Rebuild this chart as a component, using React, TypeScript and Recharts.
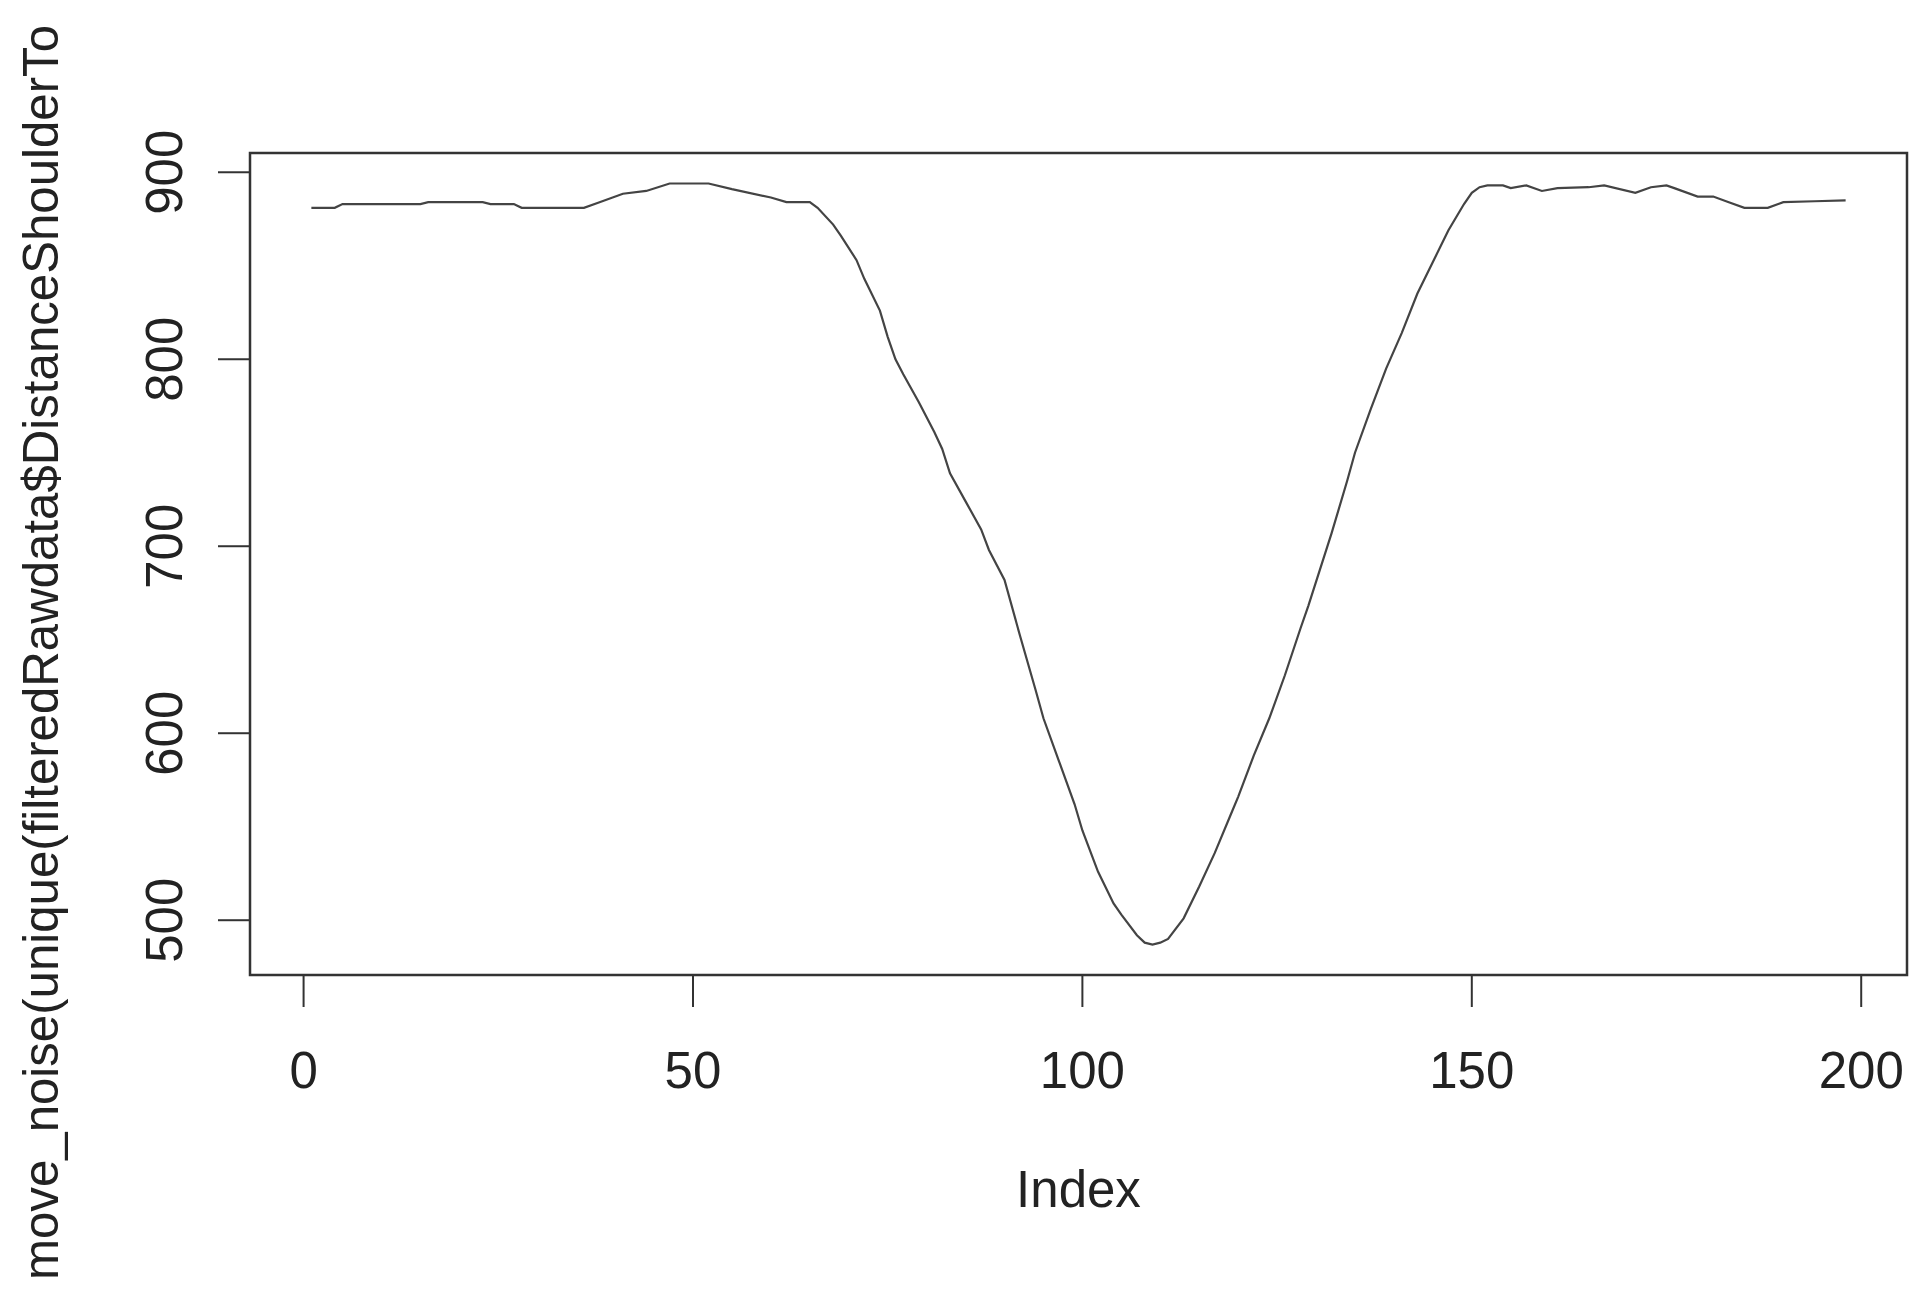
import React from 'react'
import { LineChart, Line, XAxis, YAxis, ReferenceArea } from 'recharts'

// readings taken off the plot: index -> smoothed distance
const index = [
  1, 4, 5, 15, 16, 23, 24, 27, 28, 36, 38, 41, 44, 47, 52, 55, 60, 62, 65, 66,
  68, 69, 71, 72, 74, 75, 76, 77, 79, 81, 82, 83, 85, 87, 88, 90, 92, 94, 95, 97,
  99, 100, 102, 104, 105, 107, 108, 109, 110, 111, 113, 115, 117, 119, 120, 122, 124, 126, 128, 129,
  132, 134, 135, 137, 139, 141, 143, 145, 147, 149, 150, 151, 152, 154, 155, 157, 159, 161, 165, 167,
  171, 173, 175, 176, 179, 181, 183, 185, 188, 190, 194, 198,
]
const distance = [
  881, 881, 883, 883, 884, 884, 883, 883, 881, 881, 884, 888.5, 890, 894, 894, 891, 886.5, 884, 884, 881,
  872, 866, 853, 843, 826, 812, 800, 792, 777, 761, 752, 739, 724, 709, 698, 682, 652, 623, 608, 585,
  562, 548, 526, 509, 503, 492, 488, 487, 488, 490, 501, 518, 536, 556, 566, 588, 608, 631, 656, 668,
  707, 735, 750, 773, 795, 814, 835, 852, 869, 883, 889, 892, 893, 893, 891.5, 893, 890, 891.5, 892, 893,
  889, 892, 893, 891.5, 887, 887, 884, 881, 881, 884, 884.5, 885,
]
const xTicks = [0, 50, 100, 150, 200]
const yTicks = [500, 600, 700, 800, 900]

const data = index.map((i, k) => ({ index: i, value: distance[k] }))

// R pads the data range by 4% on each side
const xDomain = [-6.88, 205.88]
const yDomain = [470.7, 910.3]

const FONT = 'Liberation Sans, Arial, sans-serif'
const FS = 51
const INK = '#222'

const XTick = (props: any) => {
  const { x, y, payload } = props
  return (
    <text x={x} y={y + 81} textAnchor="middle" fontSize={FS} fontFamily={FONT} fill={INK}>
      {payload.value}
    </text>
  )
}

const YTick = (props: any) => {
  const { x, y, payload } = props
  const bx = x - 36
  return (
    <text x={bx} y={y} transform={`rotate(-90, ${bx}, ${y})`} textAnchor="middle" fontSize={FS} fontFamily={FONT} fill={INK}>
      {payload.value}
    </text>
  )
}

const XTitle = (props: any) => {
  const { viewBox } = props
  return (
    <text x={viewBox.x + viewBox.width / 2} y={1199} textAnchor="middle" fontSize={FS} fontFamily={FONT} fill={INK}>
      Index
    </text>
  )
}

const YTitle = () => (
  <text x={50} y={1272} transform="rotate(-90, 50, 1272)" textAnchor="start" fontSize={49.2} fontFamily={FONT} fill={INK}>
    move_noise(unique(filteredRawdata$DistanceShoulderTo
  </text>
)

const App = () => {
  return (
    <div style={{ width: 1907, height: 1287, background: '#fff' }}>
      <LineChart width={1907} height={1287} data={data} margin={{ top: 145, right: 8, bottom: 0, left: 0 }}>
        <XAxis
          dataKey="index"
          type="number"
          domain={xDomain}
          allowDataOverflow
          ticks={xTicks}
          height={320}
          axisLine={false}
          tickSize={32}
          tickMargin={0}
          tickLine={{ stroke: '#333', strokeWidth: 2 }}
          tick={<XTick />}
          label={<XTitle />}
        />
        <YAxis
          type="number"
          domain={yDomain}
          allowDataOverflow
          ticks={yTicks}
          width={242}
          axisLine={false}
          tickSize={32}
          tickMargin={0}
          tickLine={{ stroke: '#333', strokeWidth: 2 }}
          tick={<YTick />}
          label={<YTitle />}
        />
        <ReferenceArea
          x1={xDomain[0]}
          x2={xDomain[1]}
          y1={yDomain[0]}
          y2={yDomain[1]}
          fill="none"
          fillOpacity={0}
          stroke="#333"
          strokeWidth={2.5}
          strokeOpacity={1}
        />
        <Line
          type="linear"
          dataKey="value"
          stroke="#444"
          strokeWidth={2.2}
          dot={false}
          isAnimationActive={false}
        />
      </LineChart>
    </div>
  )
}

export default App
